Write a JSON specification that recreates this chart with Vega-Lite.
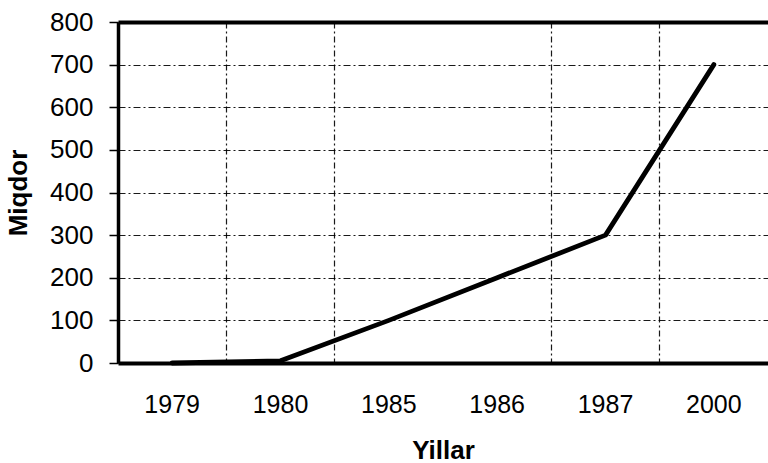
{
  "$schema": "https://vega.github.io/schema/vega-lite/v6.json",
  "width": 650,
  "height": 341,
  "autosize": {"type": "none"},
  "padding": {"left": 118, "top": 22, "right": 0, "bottom": 100},
  "background": "white",
  "config": {
    "view": {"stroke": null},
    "font": "Liberation Sans"
  },
  "data": {
    "values": [
      {"year": "1979", "value": 0},
      {"year": "1980", "value": 5},
      {"year": "1985", "value": 100},
      {"year": "1986", "value": 200},
      {"year": "1987", "value": 300},
      {"year": "2000", "value": 700}
    ]
  },
  "layer": [
    {
      "mark": {"type": "point", "opacity": 0},
      "encoding": {
        "x": {
          "field": "year", "type": "ordinal", "sort": null,
          "scale": {"type": "band", "paddingInner": 0, "paddingOuter": 0},
          "axis": {
            "orient": "top", "title": null, "labels": false, "ticks": false,
            "domain": true, "domainColor": "black", "domainWidth": 4,
            "grid": true, "gridColor": "black", "gridWidth": 1.2, "gridDash": [6, 3, 2, 3], "gridOpacity": 0.9,
            "bandPosition": 0,
            "values": ["1980", "1985", "1987", "2000"]
          }
        }
      }
    },
    {
      "mark": {"type": "line", "color": "black", "strokeWidth": 4.8, "strokeJoin": "round", "strokeCap": "round"},
      "encoding": {
        "x": {
          "field": "year", "type": "ordinal", "sort": null,
          "scale": {"type": "band", "paddingInner": 0, "paddingOuter": 0},
          "axis": {
            "orient": "bottom", "title": "Yillar", "grid": false, "ticks": false,
            "domain": true, "domainColor": "black", "domainWidth": 4,
            "labelAngle": 0, "labelFontSize": 25, "labelColor": "black", "labelPadding": 29,
            "titleFontSize": 26, "titleFontWeight": "bold", "titleColor": "black", "titlePadding": 20
          }
        },
        "y": {
          "field": "value", "type": "quantitative",
          "scale": {"domain": [0, 800], "nice": false},
          "axis": {
            "title": "Miqdor", "values": [0, 100, 200, 300, 400, 500, 600, 700, 800],
            "grid": true, "gridColor": "black", "gridWidth": 1.2, "gridDash": [7, 3, 2, 3], "gridOpacity": 0.9,
            "ticks": true, "tickSize": 9, "tickWidth": 1.5, "tickColor": "black",
            "domain": true, "domainColor": "black", "domainWidth": 3.5,
            "labelFontSize": 26, "labelColor": "black", "labelPadding": 16,
            "titleFontSize": 26, "titleFontWeight": "bold", "titleColor": "black", "titlePadding": 18
          }
        }
      }
    }
  ],
  "resolve": {"axis": {"x": "independent"}}
}
